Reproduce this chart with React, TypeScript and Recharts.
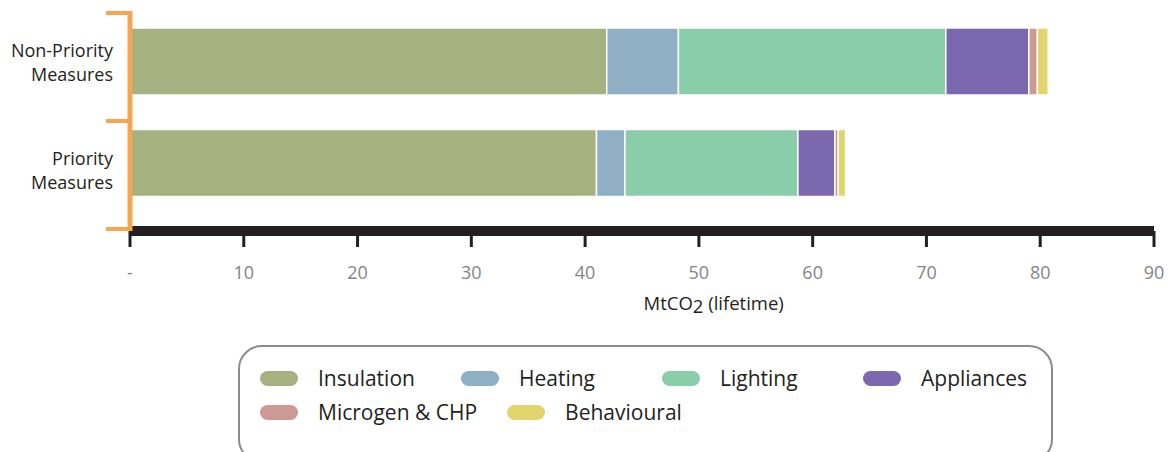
import React from "react";
import { Bar, BarChart, Legend, XAxis, YAxis } from "recharts";

const categories = ["Non-Priority Measures", "Priority Measures"];
const seriesNames = ["Insulation", "Heating", "Lighting", "Appliances", "Microgen & CHP", "Behavioural"];
const seriesColors = ["#a5b17f", "#8eafc4", "#8acea9", "#7b68ae", "#cd9a93", "#e2d56b"];

const insulation = [41.9, 41.0];
const heating = [6.3, 2.5];
const lighting = [23.5, 15.2];
const appliances = [7.3, 3.25];
const microgen = [0.75, 0.3];
const behavioural = [0.95, 0.65];

const xTicks = [0, 10, 20, 30, 40, 50, 60, 70, 80, 90];
const xTickLabels = ["-", "10", "20", "30", "40", "50", "60", "70", "80", "90"];
// bracket axis runs 0 (top) .. 1 (bottom): marks on the group edges, labels in the middle
const bracketTicks = [0, 0.25, 0.5, 0.75, 1];
const bracketEdges = [0, 0.5, 1];

const seriesValues = [insulation, heating, lighting, appliances, microgen, behavioural];
const data = categories.map((name, i) => {
  const row: Record<string, string | number> = { name };
  seriesNames.forEach((s, j) => (row[s] = seriesValues[j][i]));
  return row;
});

const FONT = "'Open Sans', sans-serif";
const ORANGE = "#f7a64f";
const DARK = "#231f20";

const BracketTick = ({ x, y, payload }: any) => {
  const v = Number(payload.value);
  if (bracketEdges.includes(v)) {
    return <line x1={x - 24} x2={x} y1={y} y2={y} stroke={ORANGE} strokeWidth={4} />;
  }
  const cat = categories[Math.min(categories.length - 1, Math.floor(v * categories.length))];
  const words = cat.split(" ");
  return (
    <text x={x - 17} y={y} textAnchor="end" fontSize={18} fill={DARK} fontFamily={FONT}>
      {words.map((w, i) => (
        <tspan key={i} x={x - 17} dy={i === 0 ? -10 : 24}>
          {w}
        </tspan>
      ))}
    </text>
  );
};

const ValueTick = ({ x, y, payload }: any) => {
  const idx = xTicks.indexOf(payload.value);
  return (
    <text x={x} y={y + 30} textAnchor="middle" fontSize={18} fill="#858585" fontFamily={FONT}>
      {idx >= 0 ? xTickLabels[idx] : payload.value}
    </text>
  );
};

const AxisTitle = ({ viewBox }: any) => (
  <text
    x={viewBox.x + viewBox.width * 0.57}
    y={viewBox.y + 79}
    textAnchor="middle"
    fontSize={18.5}
    fill={DARK}
    fontFamily={FONT}
  >
    MtCO<tspan dy={3}>2</tspan>
    <tspan dy={-3}> (lifetime)</tspan>
  </text>
);

const legendRows = [seriesNames.slice(0, 4), seriesNames.slice(4)];

const LegendBox = () => (
  <div
    style={{
      boxSizing: "border-box",
      width: 815,
      height: 118,
      border: "2px solid #8c8c8c",
      borderRadius: 24,
      padding: "14px 0 0 20px",
      fontFamily: FONT,
      fontSize: 21,
      color: DARK,
    }}
  >
    {legendRows.map((row, r) => (
      <div key={r} style={{ display: "flex", height: 34 }}>
        {row.map((s) => (
          <div
            key={s}
            style={{
              boxSizing: "border-box",
              minWidth: 201,
              paddingRight: 30,
              display: "flex",
              alignItems: "center",
              whiteSpace: "nowrap",
            }}
          >
            <span
              style={{
                display: "inline-block",
                width: 38,
                height: 15,
                borderRadius: 8,
                background: seriesColors[seriesNames.indexOf(s)],
                marginRight: 20,
              }}
            />
            <span>{s}</span>
          </div>
        ))}
      </div>
    ))}
  </div>
);

export default function App() {
  return (
    <div style={{ position: "absolute", left: 0, top: 0, width: 1169, height: 452, overflow: "hidden", background: "#fff" }}>
      <BarChart
        width={1169}
        height={452}
        data={data}
        layout="vertical"
        margin={{ top: 11, right: 15, bottom: 0, left: 0 }}
      >
        <XAxis
          type="number"
          domain={[0, 90]}
          ticks={xTicks}
          interval={0}
          height={221}
          axisLine={{ stroke: DARK, strokeWidth: 10 }}
          tickLine={{ stroke: DARK, strokeWidth: 3 }}
          tickSize={16}
          tick={<ValueTick />}
          label={<AxisTitle />}
        />
        <YAxis yAxisId="cat" type="category" dataKey="name" hide padding={{ top: 0, bottom: 17 }} />
        <YAxis
          yAxisId="bracket"
          type="number"
          domain={[0, 1]}
          ticks={bracketTicks}
          interval={0}
          width={130}
          padding={{ top: 2, bottom: 2 }}
          axisLine={{ stroke: ORANGE, strokeWidth: 5 }}
          tickLine={false}
          tickSize={0}
          tickMargin={0}
          tick={<BracketTick />}
        />
        {seriesNames.map((s, i) => (
          <Bar
            key={s}
            yAxisId="cat"
            dataKey={s}
            stackId="a"
            fill={seriesColors[i]}
            stroke="#ffffff"
            strokeWidth={1.5}
            barSize={67}
            isAnimationActive={false}
          />
        ))}
        <Legend
          layout="horizontal"
          verticalAlign="middle"
          align="center"
          wrapperStyle={{ left: 238, top: 345, width: 815 }}
          content={<LegendBox />}
        />
      </BarChart>
    </div>
  );
}
